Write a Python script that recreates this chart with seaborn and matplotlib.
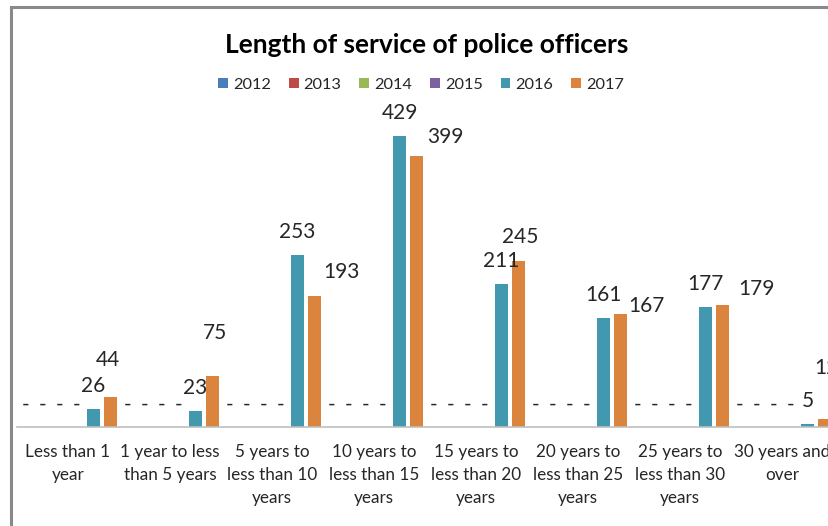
import matplotlib
matplotlib.use("Agg")
import matplotlib.pyplot as plt
from matplotlib.patches import Rectangle, Patch
import seaborn as sns
import pandas as pd

# ---- data ----
categories = [
    "Less than 1\nyear",
    "1 year to less\nthan 5 years",
    "5 years to\nless than 10\nyears",
    "10 years to\nless than 15\nyears",
    "15 years to\nless than 20\nyears",
    "20 years to\nless than 25\nyears",
    "25 years to\nless than 30\nyears",
    "30 years and\nover",
]
years = ["2012", "2013", "2014", "2015", "2016", "2017"]
values_2012 = [0, 0, 0, 0, 0, 0, 0, 0]
values_2013 = [0, 0, 0, 0, 0, 0, 0, 0]
values_2014 = [0, 0, 0, 0, 0, 0, 0, 0]
values_2015 = [0, 0, 0, 0, 0, 0, 0, 0]
values_2016 = [26, 23, 253, 429, 211, 161, 177, 5]
values_2017 = [44, 75, 193, 399, 245, 167, 179, 12]
series = [values_2012, values_2013, values_2014, values_2015, values_2016, values_2017]

# ---- style ----
colors = ["#4A7EBB", "#BE4B48", "#98B954", "#7D60A0", "#4198AF", "#DB843D"]
# pixel offsets of the 2017 data labels relative to bar top (as placed in the original)
label_offsets_2017 = [(-3, 37), (3, 43), (27, 24), (29, 19), (2, 24), (26, 8), (34, 16), (2, 51)]

rows = []
for y, vals in zip(years, series):
    for c, v in zip(categories, vals):
        rows.append({"category": c, "year": y, "value": v})
df = pd.DataFrame(rows)

sns.set_theme(style="white")
plt.rcParams["font.family"] = ["Lato", "DejaVu Sans"]

W, H = 829, 526
fig = plt.figure(figsize=(W / 100, H / 100), dpi=100)
ax = fig.add_axes([17 / W, (H - 427) / H, 816 / W, 327 / H])

sns.barplot(data=df, x="category", y="value", hue="year", hue_order=years,
            order=categories, palette=colors, saturation=1, width=1.0, gap=0.22,
            linewidth=0, ax=ax, legend=False)

ax.set_ylim(0, 327 / 0.679)
ax.set_xlim(-0.5, len(categories) - 0.5)
ax.set_xlabel("")
ax.set_ylabel("")
ax.set_yticks([])
for s in ["top", "right", "left"]:
    ax.spines[s].set_visible(False)
ax.spines["bottom"].set_color("#BFBFBF")
ax.spines["bottom"].set_linewidth(1.2)
ax.tick_params(axis="x", length=0, pad=12)
for lbl in ax.get_xticklabels():
    lbl.set_fontsize(12.3)
    lbl.set_color("#262626")
    lbl.set_linespacing(1.55)
    lbl.set_verticalalignment("top")

# data labels
for yi, cont in enumerate(ax.containers):
    for ci, bar in enumerate(cont):
        x = bar.get_x() + bar.get_width() / 2
        h = bar.get_height()
        v = series[yi][ci]
        if v == 0:
            txt, dx, dy = "-", 0, 22
        elif years[yi] == "2017":
            txt = str(v)
            dx, dy = label_offsets_2017[ci]
        else:
            txt, dx, dy = str(v), 0, 23
        ax.annotate(txt, (x, h), xytext=(dx, dy), textcoords="offset pixels",
                    ha="center", va="center", fontsize=15, color="#262626",
                    annotation_clip=False)

# title
fig.text(427 / W, 1 - 45 / H, "Length of service of police officers",
         ha="center", va="center", fontsize=19, fontweight="bold", color="black")

# legend
handles = [Patch(facecolor=c, edgecolor="none") for c in colors]
fig.legend(handles, years, loc="center", bbox_to_anchor=(421 / W, 1 - 85 / H),
           ncol=6, frameon=False, fontsize=11.8, handlelength=0.6, handleheight=0.6,
           handletextpad=0.3, columnspacing=1.1, labelcolor="#262626")

# chart border (cropped frame)
fig.patches.append(Rectangle((11 / W, -0.1), 1.2, 1 - 7 / H + 0.1,
                             transform=fig.transFigure, fill=False,
                             edgecolor="#898989", linewidth=2.2))

fig.savefig("out.png", dpi=100)
